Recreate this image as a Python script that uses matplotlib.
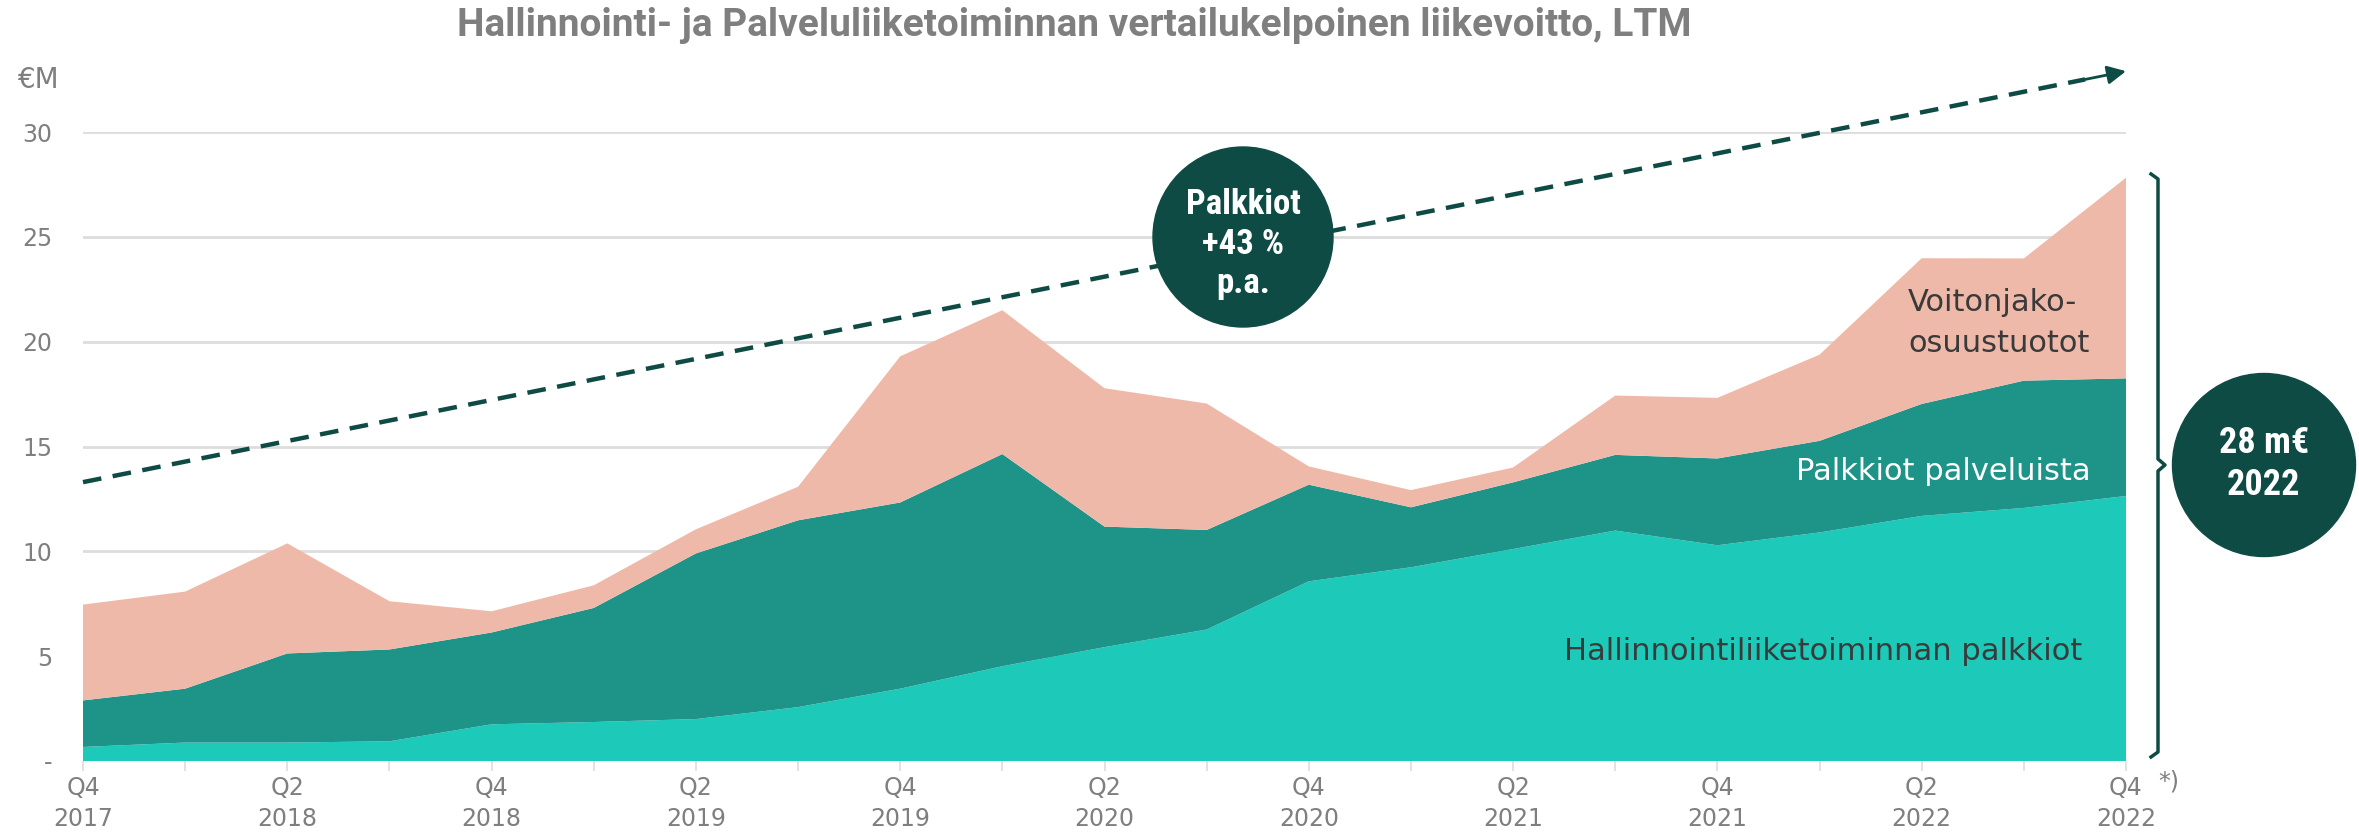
#Importing Modules
import numpy as np
import matplotlib.pyplot as plt
from matplotlib.patches import Circle
from matplotlib.lines import Line2D

#---------/Data/------------------------------#

#Quarter labels (every second one shown)
quarters = ["Q4\n2017", "Q1\n2018", "Q2\n2018", "Q3\n2018", "Q4\n2018",
            "Q1\n2019", "Q2\n2019", "Q3\n2019", "Q4\n2019", "Q1\n2020",
            "Q2\n2020", "Q3\n2020", "Q4\n2020", "Q1\n2021", "Q2\n2021",
            "Q3\n2021", "Q4\n2021", "Q1\n2022", "Q2\n2022", "Q3\n2022",
            "Q4\n2022"]

#Hallinnointiliiketoiminnan palkkiot
hallinnointi = [0.67, 0.88, 0.88, 0.94, 1.75, 1.86, 2.00, 2.57, 3.45, 4.52,
                5.43, 6.27, 8.57, 9.24, 10.11, 10.99, 10.29, 10.90, 11.69,
                12.07, 12.64]

#Palkkiot palveluista
palvelut = [2.22, 2.57, 4.25, 4.38, 4.38, 5.44, 7.90, 8.91, 8.88, 10.12,
            5.75, 4.75, 4.61, 2.86, 3.18, 3.61, 4.14, 4.37, 5.34, 6.07, 5.61]

#Voitonjako-osuustuotot
voitonjako = [4.57, 4.63, 5.25, 2.30, 1.01, 1.08, 1.15, 1.60, 6.97, 6.86,
              6.60, 6.03, 0.87, 0.82, 0.71, 2.83, 2.89, 4.11, 6.95, 5.83, 9.57]

#Trend arrow start and end values
trend_start = 13.3
trend_end = 32.9

yticks = [0, 5, 10, 15, 20, 25, 30]
ytick_labels = ["-", "5", "10", "15", "20", "25", "30"]

#---------/Style/------------------------------#

W, H = 2359, 835
c_light = "#1DC9B8"
c_mid = "#1E9488"
c_salmon = "#EEB9A9"
c_dark = "#0F4B45"
c_gray = "#7F7F7F"
c_text = "#3A3A3A"

#Fonts for the title and the circles
title_font = ['Roboto', 'DejaVu Sans']
cond = ['Roboto Condensed', 'DejaVu Sans']

plt.rcParams['font.family'] = ['DejaVu Sans']

fig = plt.figure(figsize=(W / 100, H / 100), dpi=100)
ax = fig.add_axes([83 / W, 1 - 761 / H, (2126 - 83) / W, (761 - 132) / H])

x = np.arange(len(quarters))

#---------/Stacked areas/------------------------------#

ax.stackplot(x, hallinnointi, palvelut, voitonjako,
             colors=[c_light, c_mid, c_salmon], linewidth=0, zorder=2)

#Axes look
ax.set_xlim(0, len(quarters) - 1)
ax.set_ylim(0, 30)
for s in ax.spines.values():
    s.set_visible(False)
ax.set_yticks(yticks)
ax.set_yticklabels(ytick_labels)
ax.yaxis.grid(True, color="#DDDDDD", lw=2, zorder=0)
ax.set_axisbelow(True)
ax.tick_params(axis="y", length=0, pad=22, labelsize=17, labelcolor=c_gray)
ax.set_xticks(x)
ax.set_xticklabels([q if i % 2 == 0 else "" for i, q in enumerate(quarters)],
                   linespacing=1.35)
ax.tick_params(axis="x", length=7, width=1.2, color="#DDDDDD", pad=4,
               labelsize=17, labelcolor=c_gray)

#---------/Trend arrow/------------------------------#

ax.plot([0, 19.6], [trend_start, trend_start + (trend_end - trend_start) * 19.6 / 20],
        color=c_dark, lw=3.2, linestyle=(0, (4.2, 2.6)), clip_on=False, zorder=3)
ax.annotate("", xy=(20, trend_end), xytext=(19.5, trend_end - 0.49),
            arrowprops=dict(arrowstyle="-|>", color=c_dark, lw=2,
                            mutation_scale=28, shrinkA=0, shrinkB=0),
            annotation_clip=False, zorder=3)

#---------/Texts/------------------------------#

fig.text(1074 / W, 1 - 26 / H,
         "Hallinnointi- ja Palveluliiketoiminnan vertailukelpoinen liikevoitto, LTM",
         ha="center", va="center", fontsize=28, fontweight="bold", color=c_gray,
         family=title_font)
fig.text(18 / W, 1 - 80 / H, "€M", ha="left", va="center", fontsize=20, color=c_gray)
fig.text(2158 / W, 1 - 781 / H, "*)", ha="left", va="center", fontsize=17, color=c_gray)

fig.text(1908 / W, 1 - 323 / H, "Voitonjako-\nosuustuotot", ha="left", va="center",
         fontsize=22, color=c_text, linespacing=1.5)
fig.text(2091 / W, 1 - 471 / H, "Palkkiot palveluista", ha="right", va="center",
         fontsize=22, color="white")
fig.text(2082 / W, 1 - 651 / H, "Hallinnointiliiketoiminnan palkkiot", ha="right",
         va="center", fontsize=22, color=c_text)

#---------/Circles/------------------------------#

c1 = Circle((1243 / 100, (H - 237) / 100), 0.90, transform=fig.dpi_scale_trans,
            color=c_dark, zorder=5)
fig.patches.append(c1)
fig.text(1243 / W, 1 - 244 / H, "Palkkiot\n+43 %\np.a.", ha="center", va="center",
         fontsize=25, fontweight="bold", color="white", linespacing=1.25, zorder=6,
         family=cond)

c2 = Circle((2264 / 100, (H - 465) / 100), 0.915, transform=fig.dpi_scale_trans,
            color=c_dark, zorder=5)
fig.patches.append(c2)
fig.text(2264 / W, 1 - 464 / H, "28 m€\n2022", ha="center", va="center",
         fontsize=26, fontweight="bold", color="white", linespacing=1.2, zorder=6,
         family=cond)

#---------/Bracket/------------------------------#

bx = [2151, 2158, 2158, 2165, 2158, 2158, 2151]
by = [174, 179, 459, 465, 471, 752, 757]
fig.lines.append(Line2D([v / W for v in bx], [1 - v / H for v in by],
                        transform=fig.transFigure, color=c_dark, lw=2.5))

fig.savefig("out.png", dpi=100)
